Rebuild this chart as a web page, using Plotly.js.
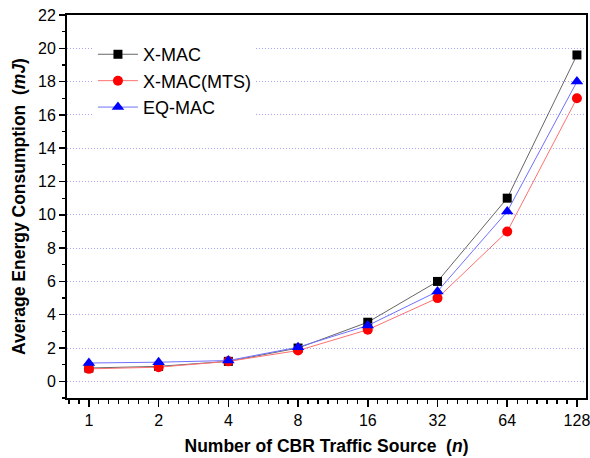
<!DOCTYPE html>
<html><head><meta charset="utf-8">
<script src="https://cdn.plot.ly/plotly-3.0.1.min.js"></script>
<style>html,body{margin:0;padding:0;background:#fff}#c{width:590px;height:458px}</style>
</head><body><div id="c"></div>
<script>
const sources = [1, 2, 4, 8, 16, 32, 64, 128];
const xmac = [0.8, 0.9, 1.2, 2.0, 3.55, 6.0, 11.0, 19.6];
const xmacMts = [0.75, 0.85, 1.2, 1.85, 3.1, 5.0, 9.0, 17.0];
const eqmac = [1.1, 1.15, 1.25, 2.05, 3.35, 5.4, 10.2, 18.0];
const tickLabels = ['1', '2', '4', '8', '16', '32', '64', '128'];

const xs = sources.map(v => Math.log2(v));
function tr(name, y, lineColor, mColor, sym, size) {
  return {x: xs, y: y, name: name, type: 'scatter', mode: 'lines+markers',
    line: {color: lineColor, width: 1}, marker: {color: mColor, symbol: sym, size: size}};
}
const data = [
  tr('X-MAC', xmac, '#666666', '#000000', 'square', 9),
  tr('X-MAC(MTS)', xmacMts, '#ff7070', '#ff0000', 'circle', 10),
  tr('EQ-MAC', eqmac, '#7070ff', '#0000ff', 'triangle-up', 11)
];
const fnt = 'Arial, "Liberation Sans", sans-serif';
const layout = {
  width: 590, height: 458,
  margin: {l: 67, r: 4, t: 15, b: 60},
  paper_bgcolor: '#fff', plot_bgcolor: '#fff',
  font: {family: fnt, color: '#000'},
  showlegend: true,
  legend: {x: 0.05, y: 0.945, xanchor: 'left', yanchor: 'top', bgcolor: '#fff',
    font: {size: 18, family: fnt}, tracegroupgap: 0, itemwidth: 40},
  xaxis: {
    range: [-0.314, 7.13], tickvals: xs, ticktext: tickLabels,
    ticks: 'outside', ticklen: 7, tickwidth: 1.5, tickcolor: '#000',
    ticklabeloverflow: 'allow',
    showgrid: false, zeroline: false, showline: true, linecolor: '#000', linewidth: 2, mirror: true,
    tickfont: {size: 16},
    minor: {dtick: 1/7, tick0: 0, ticks: 'outside', ticklen: 4, tickwidth: 1.2, tickcolor: '#000', showgrid: false},
    title: {text: '<b>Number of CBR Traffic Source  (<i>n</i>)</b>', font: {size: 17.5}, standoff: 12}
  },
  yaxis: {
    range: [-1, 22], dtick: 2, tick0: 0,
    ticks: 'outside', ticklen: 6, tickwidth: 1.5, tickcolor: '#000',
    showgrid: true, gridcolor: '#a8a8ff', griddash: '1px,2px', gridwidth: 1,
    zeroline: false, showline: true, linecolor: '#000', linewidth: 2, mirror: true,
    tickfont: {size: 16},
    minor: {dtick: 1, tick0: 0, ticks: 'outside', ticklen: 3, tickwidth: 1.2, tickcolor: '#000', showgrid: false},
    title: {text: '<b>Average Energy Consumption  (<i>mJ</i>)</b>', font: {size: 17.5}, standoff: 8}
  }
};
Plotly.newPlot('c', data, layout, {displayModeBar: false, staticPlot: true});
</script></body></html>
